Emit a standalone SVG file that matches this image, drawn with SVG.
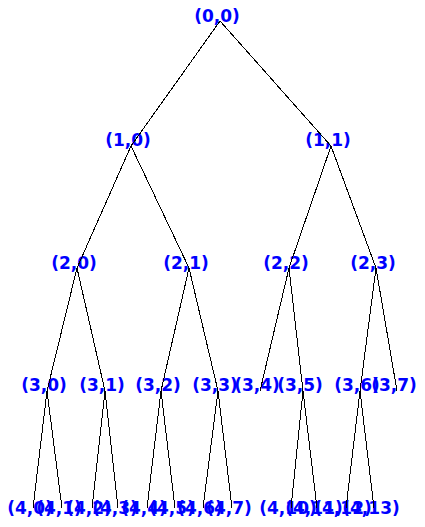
<svg xmlns="http://www.w3.org/2000/svg" width="425" height="527" viewBox="0 0 425 527">
<style>
text{font-family:"DejaVu Sans",Verdana,sans-serif;font-weight:bold;font-size:17px;fill:#0000ff;text-anchor:middle}
#edges line{stroke:#000;stroke-width:1;shape-rendering:crispEdges}
</style>
<rect width="425" height="527" fill="#fff"/>
<g id="n00"><text x="217" y="22">(0,0)</text></g>
<g id="n10"><text x="128" y="146">(1,0)</text></g>
<g id="n11"><text x="328" y="146">(1,1)</text></g>
<g id="n20"><text x="74" y="269">(2,0)</text></g>
<g id="n21"><text x="186" y="269">(2,1)</text></g>
<g id="n22"><text x="286" y="269">(2,2)</text></g>
<g id="n23"><text x="373" y="269">(2,3)</text></g>
<g id="n30"><text x="44" y="391">(3,0)</text></g>
<g id="n31"><text x="102" y="391">(3,1)</text></g>
<g id="n32"><text x="158" y="391">(3,2)</text></g>
<g id="n33"><text x="215" y="391">(3,3)</text></g>
<g id="n34"><text x="257" y="391">(3,4)</text></g>
<g id="n35"><text x="300" y="391">(3,5)</text></g>
<g id="n36"><text x="357" y="391">(3,6)</text></g>
<g id="n37"><text x="394" y="391">(3,7)</text></g>
<g id="n40"><text x="30" y="514">(4,0)</text></g>
<g id="n41"><text x="59" y="514">(4,1)</text></g>
<g id="n42"><text x="89" y="514">(4,2)</text></g>
<g id="n43"><text x="115" y="514">(4,3)</text></g>
<g id="n44"><text x="144" y="514">(4,4)</text></g>
<g id="n45"><text x="172" y="514">(4,5)</text></g>
<g id="n46"><text x="200" y="514">(4,6)</text></g>
<g id="n47"><text x="229" y="514">(4,7)</text></g>
<g id="n410"><text x="288" y="514">(4,10)</text></g>
<g id="n411"><text x="314" y="514">(4,11)</text></g>
<g id="n412"><text x="343" y="514">(4,12)</text></g>
<g id="n413"><text x="371" y="514">(4,13)</text></g>
<g id="edges">
<line x1="220" y1="21" x2="131" y2="146"/>
<line x1="220" y1="21" x2="331" y2="146"/>
<line x1="131" y1="146" x2="77" y2="268"/>
<line x1="131" y1="146" x2="189" y2="268"/>
<line x1="331" y1="146" x2="289" y2="268"/>
<line x1="331" y1="146" x2="376" y2="268"/>
<line x1="77" y1="268" x2="47" y2="391"/>
<line x1="77" y1="268" x2="105" y2="391"/>
<line x1="189" y1="268" x2="161" y2="391"/>
<line x1="189" y1="268" x2="218" y2="391"/>
<line x1="289" y1="268" x2="260" y2="391"/>
<line x1="289" y1="268" x2="303" y2="391"/>
<line x1="376" y1="268" x2="360" y2="391"/>
<line x1="376" y1="268" x2="397" y2="391"/>
<line x1="47" y1="391" x2="33" y2="508"/>
<line x1="47" y1="391" x2="62" y2="508"/>
<line x1="105" y1="391" x2="92" y2="508"/>
<line x1="105" y1="391" x2="118" y2="508"/>
<line x1="161" y1="391" x2="147" y2="508"/>
<line x1="161" y1="391" x2="175" y2="508"/>
<line x1="218" y1="391" x2="203" y2="508"/>
<line x1="218" y1="391" x2="232" y2="508"/>
<line x1="303" y1="391" x2="291" y2="508"/>
<line x1="303" y1="391" x2="317" y2="508"/>
<line x1="360" y1="391" x2="346" y2="508"/>
<line x1="360" y1="391" x2="374" y2="508"/>
</g>
</svg>
